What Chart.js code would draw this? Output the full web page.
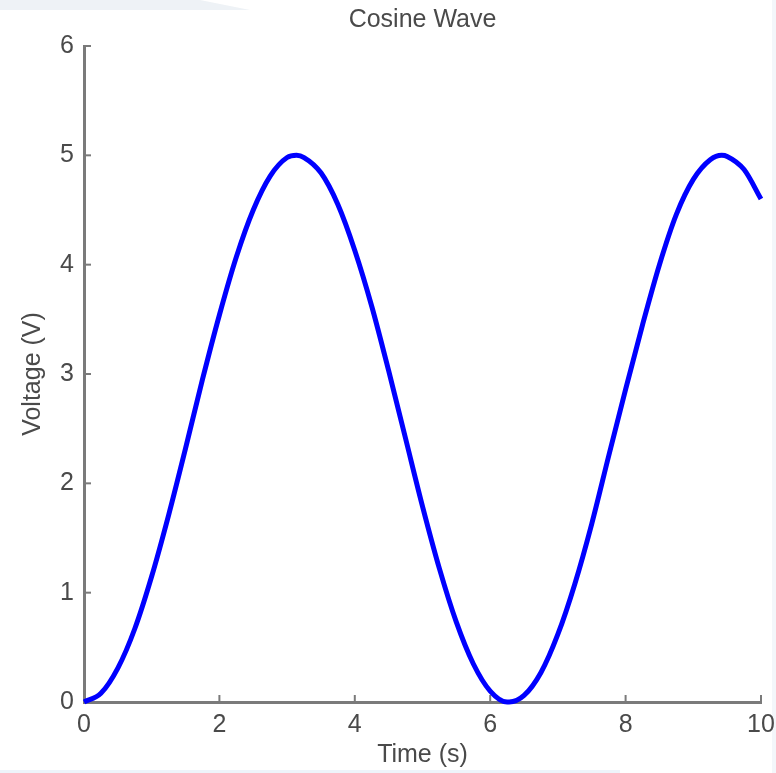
<!DOCTYPE html>
<html>
<head>
<meta charset="utf-8">
<script src="https://cdn.jsdelivr.net/npm/chart.js@4/dist/chart.umd.min.js"></script>
<style>
  html, body { margin: 0; padding: 0; background: #ffffff; }
  #wrap { position: relative; width: 776px; height: 773px; overflow: hidden; }
  #band { position: absolute; left: 0; top: 0; width: 260px; height: 10px; background: #eef2f6;
          clip-path: polygon(0 0, 200px 0, 250px 10px, 0 10px); }
  #bottomband { position: absolute; left: 0; top: 770px; width: 620px; height: 3px; background: #eef4fa; }
  #rightband { position: absolute; left: 772px; top: 0; width: 4px; height: 773px; background: #f3f6fa; }
  canvas { position: absolute; left: 0; top: 0; }
</style>
</head>
<body>
<div id="wrap">
  <div id="band"></div>
  <div id="bottomband"></div>
  <div id="rightband"></div>
  <canvas id="c" width="776" height="773"></canvas>
</div>
<script>
const chartTitle = 'Cosine Wave';
const xAxisTitle = 'Time (s)';
const yAxisTitle = 'Voltage (V)';
const xTicks = [0, 2, 4, 6, 8, 10];
const yTicks = [0, 1, 2, 3, 4, 5, 6];
const time = [0,0.25,0.5,0.75,1,1.25,1.5,1.75,2,2.25,2.5,2.75,3,3.14,3.25,3.5,3.75,4,4.25,4.5,4.75,5,5.25,5.5,5.75,6,6.25,6.28,6.5,6.75,7,7.25,7.5,7.75,8,8.25,8.5,8.75,9,9.25,9.42,9.5,9.75,10];
const voltage = [0,0.08,0.31,0.67,1.15,1.71,2.32,2.95,3.54,4.07,4.50,4.81,4.98,5.00,4.98,4.84,4.55,4.13,3.62,3.03,2.41,1.79,1.22,0.73,0.35,0.10,0.00,0.00,0.06,0.27,0.62,1.08,1.63,2.25,2.86,3.45,4.00,4.46,4.78,4.96,5.00,4.99,4.87,4.60];

const FONT = "'Liberation Sans', Arial, sans-serif";
const FS = 25;
const TEXT = '#4a4a4a';
const AXIS = '#7a7a7a';

const innerTicks = {
  id: 'innerTicks',
  beforeDatasetsDraw(chart) {
    const ctx = chart.ctx;
    const xs = chart.scales.x, ys = chart.scales.y;
    const len = 7;
    ctx.save();
    ctx.strokeStyle = AXIS;
    ctx.lineWidth = 2;
    xTicks.forEach(v => {
      const px = xs.getPixelForValue(v);
      ctx.beginPath();
      ctx.moveTo(px, ys.bottom);
      ctx.lineTo(px, ys.bottom - len);
      ctx.stroke();
    });
    yTicks.forEach(v => {
      const py = ys.getPixelForValue(v);
      ctx.beginPath();
      ctx.moveTo(xs.left, py);
      ctx.lineTo(xs.left + len, py);
      ctx.stroke();
    });
    ctx.restore();
  },
  afterDraw(chart) {
    const ctx = chart.ctx;
    const a = chart.chartArea;
    ctx.save();
    ctx.fillStyle = TEXT;
    ctx.font = FS + "px " + FONT;
    ctx.textAlign = 'center';
    ctx.textBaseline = 'middle';
    ctx.fillText(chartTitle, (a.left + a.right) / 2, 20);
    ctx.restore();
  }
};

new Chart(document.getElementById('c'), {
  type: 'line',
  data: {
    datasets: [{
      data: time.map((t, i) => ({ x: t, y: voltage[i] })),
      borderColor: '#0000ff',
      borderWidth: 5,
      pointRadius: 0,
      fill: false,
      cubicInterpolationMode: 'monotone',
      clip: false
    }]
  },
  options: {
    responsive: false,
    animation: false,
    layout: { padding: { left: 18, right: 0, top: 46, bottom: 0 } },
    plugins: {
      legend: { display: false },
      tooltip: { enabled: false },
      title: { display: false }
    },
    scales: {
      x: {
        type: 'linear',
        min: 0, max: 10,
        afterBuildTicks: s => { s.ticks = xTicks.map(v => ({ value: v })); },
        afterFit: s => { s.height = 71; s.paddingRight = 15; s.paddingLeft = 0; },
        grid: { display: false, drawTicks: false },
        border: { display: true, color: AXIS, width: 3 },
        ticks: { color: TEXT, font: { family: FONT, size: FS }, padding: 8, maxRotation: 0, autoSkip: false },
        title: { display: true, text: xAxisTitle, color: TEXT, font: { family: FONT, size: FS }, padding: { top: 0, bottom: 3 } }
      },
      y: {
        type: 'linear',
        min: 0, max: 6,
        afterBuildTicks: s => { s.ticks = yTicks.map(v => ({ value: v })); },
        afterFit: s => { s.width = 66; },
        grid: { display: false, drawTicks: false },
        border: { display: true, color: AXIS, width: 3 },
        ticks: { color: TEXT, font: { family: FONT, size: FS }, padding: 10, autoSkip: false },
        title: { display: true, text: yAxisTitle, color: TEXT, font: { family: FONT, size: FS }, padding: { top: 0, bottom: 0 } }
      }
    }
  },
  plugins: [innerTicks]
});
</script>
</body>
</html>
